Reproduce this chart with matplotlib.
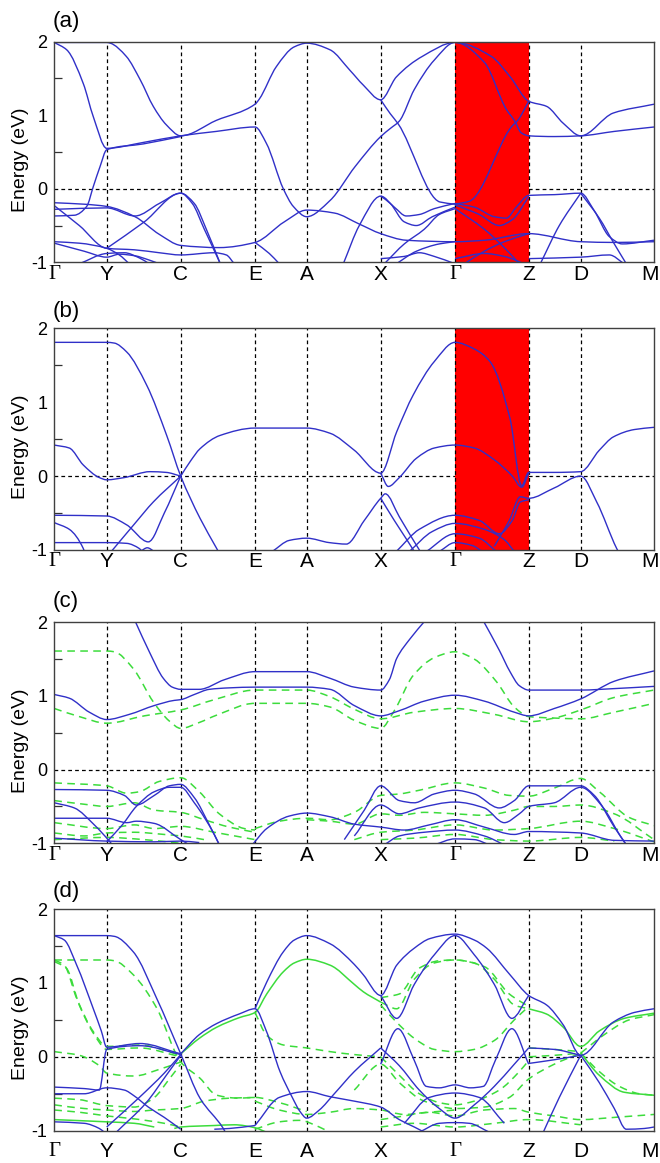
import numpy as np
import matplotlib
matplotlib.use("Agg")
import matplotlib.pyplot as plt
from matplotlib.path import Path
from matplotlib.patches import PathPatch

# ---------------- k-path ----------------
k_ticks = [0, 52.4, 126.4, 200.7, 252.4, 326.4, 400.7, 474.4, 526.4, 599.7]
k_labels = ['Γ', 'Y', 'C', 'E', 'A', 'X', 'Γ', 'Z', 'D', 'M']
y_ticks = [-1, 0, 1, 2]

# ---------------- panel (a): blue bands (k, E) ----------------
a_blue = [
    [(0, 1.99), (52.4, 1.99), (56, 1.98), (72, 1.80), (86, 1.48), (99, 1.12), (112, 0.87), (126.4, 0.72),
     (162, 0.93), (200.7, 1.15), (205, 1.22), (222, 1.66), (240, 1.93), (252.4, 1.98), (275.7, 1.89),
     (295.7, 1.61), (309, 1.41), (326.4, 1.21), (342, 1.52), (368, 1.80), (400.7, 1.99), (437, 1.80),
     (456, 1.52), (474.4, 1.19), (492.4, 1.12), (509, 0.89), (526.4, 0.72), (559, 1.03), (599.7, 1.15)],
    [(0, 1.99), (12.4, 1.89), (29, 1.43), (39, 0.98), (52.4, 0.55), (89, 0.63), (126.4, 0.72), (162, 0.78),
     (200.7, 0.84), (212, 0.62), (229, 0.0), (239, -0.24), (252.4, -0.38), (275.7, -0.16), (300.7, 0.30),
     (326.4, 0.71), (336, 0.82), (345, 0.92), (360, 1.35), (380, 1.75), (400.7, 1.99), (430, 1.72),
     (452, 1.08), (460, 0.93), (467, 0.76), (474.4, 0.72), (500, 0.71), (526.4, 0.72), (560, 0.78),
     (599.7, 0.84)],
    [(0, -0.37), (20, -0.36), (32.4, -0.24), (39, 0.03), (45.7, 0.30), (52.4, 0.53), (89, 0.61), (126.4, 0.71)],
    [(326.4, 1.21), (336, 1.02), (344, 0.88), (385.7, -0.18), (400.7, -0.21)],
    [(400.7, -0.21), (415, -0.17), (457, 0.84), (464, 0.94), (474.4, 1.19)],
    [(0, -0.19), (30, -0.21), (52.4, -0.24), (80.7, -0.38), (105, -0.62), (126.4, -0.77), (165, -0.80),
     (200.7, -0.73), (230, -0.45), (252.4, -0.29), (280, -0.33), (305, -0.48), (326.4, -0.61), (352, -0.70),
     (400.7, -0.72), (430, -0.70), (474.4, -0.61), (526.4, -0.72), (560, -0.73), (599.7, -0.72)],
    [(52.4, -0.81), (90, -0.45), (126.4, -0.06), (140, -0.2), (152, -0.55), (166, -1.02)],
    [(0, -0.23), (25, -0.5), (52.4, -0.81), (80, -0.83), (105, -0.87), (126.4, -0.9), (160, -0.87),
     (172, -0.9), (180, -1.02)],
    [(0, -0.28), (52.4, -0.26), (80.7, -0.37), (105, -0.2), (126.4, -0.06), (138, -0.2), (150, -0.55),
     (162, -0.9), (166, -1.02)],
    [(0, -0.72), (25, -0.74), (52.4, -0.81), (65, -0.9), (75, -1.02)],
    [(0, -0.74), (30, -0.85), (52.4, -0.93), (65, -0.89), (80, -0.91), (95, -0.97), (105, -1.02)],
    [(25, -1.02), (52.4, -0.88), (70, -0.87), (85, -0.94), (95, -1.02)],
    [(200.7, -0.73), (215, -0.88), (225, -1.02)],
    [(289, -1.02), (305, -0.5), (326.4, -0.1), (340, -0.25), (352, -0.37), (365, -0.35), (380, -0.27),
     (400.7, -0.2)],
    [(326.4, -0.1), (336, -0.2), (350, -0.45), (362, -0.5), (378, -0.38), (400.7, -0.25)],
    [(330, -1.02), (350, -0.75), (370, -0.55), (385, -0.35), (400.7, -0.27)],
    [(342, -1.02), (362, -0.85), (385, -0.75), (400.7, -0.72)],
    [(326.4, -0.95), (350, -0.92), (365, -0.87), (380, -0.92), (400.7, -1.02)],
    [(400.7, -0.2), (420, -0.25), (440, -0.38), (452, -0.4), (462, -0.25), (474.4, -0.09), (500, -0.08),
     (526.4, -0.06), (540, -0.3), (555, -0.65), (568, -0.75), (599.7, -0.70)],
    [(526.4, -0.06), (545, -0.4), (560, -0.75), (572, -1.02)],
    [(400.7, -0.22), (425, -0.35), (445, -0.5), (458, -0.42), (474.4, -0.11)],
    [(400.7, -0.27), (430, -0.55), (450, -0.8), (465, -1.02)],
    [(410, -1.02), (430, -0.85), (450, -0.72), (474.4, -0.61)],
    [(400.7, -0.95), (430, -0.88), (450, -0.92), (470, -1.02)],
    [(474.4, -0.95), (526.4, -0.93), (555, -0.9), (570, -1.02)],
    [(486, -1.02), (505, -0.5), (526.4, -0.06)],
]

# ---------------- panel (b): blue bands ----------------
b_blue = [
    [(0, 1.81), (52.4, 1.81), (60, 1.80), (72.4, 1.68), (92.4, 1.23), (112.4, 0.55), (126.4, 0.0),
     (145.7, -0.57), (162.4, -0.98), (164, -1.02)],
    [(126.4, 0.0), (136, 0.2), (145.7, 0.37), (165.7, 0.55), (200.7, 0.65), (252.4, 0.65), (275.7, 0.58),
     (300, 0.35), (326.4, 0.04), (342.4, 0.6), (359, 1.10), (380, 1.55), (400.7, 1.81), (420, 1.72),
     (435.7, 1.55), (455.7, 0.78), (467.4, -0.13), (474.4, 0.05), (500, 0.05), (526.4, 0.06), (545, 0.35),
     (559, 0.53), (580, 0.63), (599.7, 0.66)],
    [(326.4, 0.04), (334, -0.14), (345, -0.02), (362, 0.24), (380, 0.38), (400.7, 0.42), (420, 0.38),
     (440, 0.22), (458, 0.0), (467.4, -0.15), (474.4, 0.04)],
    [(440, -0.95), (455, -0.6), (466, -0.28), (474.4, -0.30), (500, -0.16), (526.4, 0.0), (542.4, -0.35),
     (562.4, -0.98), (564, -1.02)],
    [(218, -1.02), (235, -0.87), (252.4, -0.84), (275, -0.9), (292, -0.92), (310, -0.6), (326.4, -0.3),
     (331, -0.24), (345, -0.55), (356, -0.8), (366, -1.02)],
    [(326.4, -0.3), (340, -0.6), (352, -0.85), (360, -1.02)],
    [(342, -1.02), (365, -0.72), (400.7, -0.53), (425, -0.6), (445, -0.78), (458, -0.6), (466, -0.35),
     (474.4, -0.32)],
    [(355, -1.02), (378, -0.75), (400.7, -0.64), (430, -0.72), (450, -0.86), (460, -1.02)],
    [(372, -1.02), (400.7, -0.78), (425, -0.84), (442, -1.02)],
    [(385, -1.02), (400.7, -0.9), (418, -0.94), (428, -1.02)],
    [(0, 0.42), (15, 0.38), (29, 0.15), (45, -0.02), (52.4, -0.05), (70, -0.02), (95.7, 0.06), (112, 0.05),
     (126.4, 0.0)],
    [(0, -0.53), (52.4, -0.54), (72.4, -0.66), (94, -0.89), (110, -0.5), (126.4, 0.0)],
    [(57, -1.02), (80, -0.65), (99, -0.35), (126.4, 0.0)],
    [(0, -0.63), (15, -0.72), (29, -0.98), (30, -1.02)],
    [(0, -0.90), (52.4, -0.90), (72.4, -0.91), (85, -0.98), (88, -1.02)],
    [(86, -1.02), (93, -0.97), (100, -1.02)],
]

# ---------------- panel (c): blue (solid) and green (dashed) ----------------
c_blue = [
    [(80.7, 2.02), (95, 1.6), (109, 1.24), (118, 1.12), (126.4, 1.09), (145, 1.09), (170, 1.22),
     (200.7, 1.33), (252.4, 1.33), (275.7, 1.24), (300, 1.12), (326.4, 1.08), (335, 1.22), (342.4, 1.51),
     (356, 1.78), (370.7, 2.02)],
    [(429, 2.02), (445, 1.62), (455.7, 1.33), (465, 1.14), (474.4, 1.08), (526.4, 1.08), (560, 1.10),
     (599.7, 1.13)],
    [(0, 1.02), (15, 0.97), (35, 0.78), (52.4, 0.68), (75, 0.75), (100, 0.87), (120, 0.94), (126.4, 0.95),
     (140, 1.02), (155, 1.09), (175, 1.11), (200.7, 1.12), (252.4, 1.12), (275.7, 1.09), (300, 0.87),
     (326.4, 0.73), (345, 0.8), (370, 0.93), (400.7, 1.01), (430, 0.93), (460, 0.78), (474.4, 0.73),
     (500, 0.83), (526.4, 0.96), (560, 1.2), (599.7, 1.34)],
    [(0, -0.27), (52.4, -0.28), (70, -0.35), (82, -0.48), (100, -0.35), (115, -0.22), (126.4, -0.2),
     (140, -0.38), (155, -0.75), (165, -1.02)],
    [(0, -0.45), (20, -0.52), (40, -0.75), (55, -0.97), (58, -1.02)],
    [(52.4, -0.98), (68, -0.75), (82, -0.5), (100, -0.3), (115, -0.24), (126.4, -0.24), (140, -0.45),
     (160, -0.88), (165, -1.02)],
    [(0, -0.66), (52.4, -0.66), (72.4, -0.72), (82, -0.70), (100, -0.73), (126.4, -0.95), (135, -1.02)],
    [(0, -0.93), (52.4, -0.97), (100, -0.98), (126.4, -0.97), (145, -0.99)],
    [(290, -0.95), (310, -0.55), (326.4, -0.22), (345, -0.42), (360, -0.45), (380, -0.33), (400.7, -0.28),
     (420, -0.33), (445, -0.52), (460, -0.42), (474.4, -0.22), (526.4, -0.22), (540, -0.35), (560, -0.78),
     (572, -1.02)],
    [(300, -0.9), (326.4, -0.48), (345, -0.6), (365, -0.52), (400.7, -0.44), (430, -0.52), (450, -0.72),
     (465, -0.6), (474.4, -0.5), (500, -0.45), (526.4, -0.24), (548, -0.5), (566, -0.9), (572, -1.02)],
    [(198, -1.02), (212.4, -0.8), (235, -0.63), (252.4, -0.59), (275.7, -0.64), (300, -0.74), (326.4, -0.78),
     (350, -0.82), (375, -0.75), (400.7, -0.68), (430, -0.78), (460, -0.88), (474.4, -0.84), (526.4, -0.86),
     (560, -0.96), (599.7, -0.97)],
    [(330, -1.02), (345, -0.9), (370, -0.85), (400.7, -0.82), (430, -0.9), (450, -1.02)],
    [(380, -1.02), (400.7, -0.94), (420, -0.95), (435, -1.02)],
]
c_green = [
    [(0, 1.61), (52.4, 1.61), (60, 1.6), (79, 1.37), (99, 0.92), (115, 0.66), (126.4, 0.56), (145, 0.64),
     (162.4, 0.74), (200.7, 0.90), (252.4, 0.90), (275.7, 0.85), (300, 0.67), (326.4, 0.56), (340, 0.8),
     (359, 1.28), (380, 1.52), (400.7, 1.60), (420, 1.5), (442.4, 1.19), (460, 0.85), (474.4, 0.72),
     (500, 0.70), (526.4, 0.69), (560, 0.78), (599.7, 0.90)],
    [(0, 0.83), (25, 0.72), (52.4, 0.63), (90, 0.73), (126.4, 0.81), (160, 0.95), (200.7, 1.08),
     (252.4, 1.08), (275.7, 0.99), (300, 0.82), (326.4, 0.69), (360, 0.78), (400.7, 0.83), (440, 0.75),
     (474.4, 0.65), (500, 0.7), (526.4, 0.81), (560, 0.98), (599.7, 1.08)],
    [(0, -0.18), (52.4, -0.22), (72.4, -0.32), (85, -0.3), (105, -0.16), (126.4, -0.11), (145, -0.3),
     (165, -0.6), (190, -0.8), (200.7, -0.82)],
    [(0, -0.42), (30, -0.47), (52.4, -0.5), (80, -0.45), (100, -0.55), (126.4, -0.58), (150, -0.68),
     (175, -0.78), (200.7, -0.85)],
    [(0, -0.72), (52.4, -0.8), (80, -0.75), (100, -0.8), (126.4, -0.77), (160, -0.85), (200.7, -0.95)],
    [(0, -0.86), (30, -0.9), (52.4, -0.86), (80, -0.85), (110, -0.88), (126.4, -0.9), (150, -0.95)],
    [(0, -0.95), (52.4, -0.92), (90, -0.95), (126.4, -1.0)],
    [(200.7, -0.8), (225, -0.7), (252.4, -0.66), (275.7, -0.68), (300, -0.58), (326.4, -0.35), (345, -0.33),
     (365, -0.28), (400.7, -0.18), (430, -0.25), (455, -0.35), (474.4, -0.36), (500, -0.25), (526.4, -0.12),
     (545, -0.3), (575, -0.65), (599.7, -0.76)],
    [(252.4, -0.68), (275.7, -0.7), (300, -0.74), (326.4, -0.6), (345, -0.62), (370, -0.58), (400.7, -0.6),
     (430, -0.62), (460, -0.55), (474.4, -0.5), (500, -0.5), (526.4, -0.48), (560, -0.6), (599.7, -0.95)],
    [(300, -0.95), (326.4, -0.85), (360, -0.82), (400.7, -0.75), (440, -0.82), (474.4, -0.8), (526.4, -0.7),
     (560, -0.8), (599.7, -0.98)],
    [(326.4, -0.95), (360, -0.93), (400.7, -0.88), (440, -0.95), (474.4, -0.97), (526.4, -0.92),
     (560, -0.97)],
]

# ---------------- panel (d): blue (solid), green solid and green dashed ----------------
d_blue = [
    [(0, 1.64), (52.4, 1.64), (60, 1.63), (79, 1.42), (102.4, 0.79), (126.4, 0.04), (145.7, -0.56),
     (169, -0.97), (171, -1.02)],
    [(0, 1.64), (10, 1.58), (22.4, 1.24), (39, 0.65), (47, 0.35), (52.4, 0.13), (85.7, 0.18), (126.4, 0.04)],
    [(0, -0.41), (30, -0.43), (45, -0.45), (52.4, 0.10), (85.7, 0.15), (126.4, 0.03)],
    [(126.4, 0.04), (145, 0.3), (162.4, 0.45), (185, 0.58), (200.7, 0.65), (212, 0.35), (225.7, -0.2),
     (238, -0.55), (245.7, -0.74), (252.4, -0.83), (265, -0.72), (280, -0.5), (300, -0.2), (326.4, 0.12)],
    [(200.7, 0.65), (212.4, 1.01), (229, 1.42), (240, 1.58), (252.4, 1.64), (275.7, 1.53), (300, 1.25),
     (309, 1.11), (326.4, 0.83), (342.4, 1.24), (360, 1.47), (375.7, 1.6), (400.7, 1.66), (420, 1.58),
     (432.4, 1.47), (455.7, 1.11), (474.4, 0.83), (492.4, 0.70), (509, 0.43), (526.4, 0.02), (559, 0.47),
     (580, 0.6), (599.7, 0.65)],
    [(326.4, 0.83), (342.4, 0.52), (360, 0.98), (380, 1.38), (400.7, 1.64), (420, 1.38), (440, 0.98),
     (457.6, 0.52), (474.4, 0.83)],
    [(326.4, -0.1), (343.6, 0.38), (360, -0.05), (372, -0.4), (385, -0.42), (400.7, -0.38), (416, -0.42),
     (429, -0.4), (441, -0.05), (457.6, 0.38), (474.4, -0.1)],
    [(474.4, 0.12), (500, 0.1), (526.4, 0.02)],
    [(474.4, -0.09), (500, -0.04), (526.4, 0.02)],
    [(326.4, 0.12), (345, -0.12), (365, -0.45), (385, -0.7), (400.7, -0.83), (420, -0.65), (440, -0.4),
     (460, -0.1), (474.4, 0.12)],
    [(350, -0.9), (375, -0.55), (400.7, -0.49), (425, -0.55), (450, -0.9)],
    [(200.7, -0.93), (225, -0.55), (252.4, -0.47), (275.7, -0.54), (300, -0.6), (326.4, -0.68), (345, -0.85),
     (360, -0.95), (370, -1.02)],
    [(365, -1.02), (385, -0.9), (400.7, -0.89), (415, -0.9), (435, -1.02)],
    [(526.4, 0.02), (545, -0.35), (560, -0.7), (572, -0.98), (590, -0.97), (599.7, -0.95)],
    [(489, -1.02), (505, -0.55), (526.4, 0.02)],
    [(0, -0.5), (30, -0.5), (52.4, -0.42), (70, -0.45), (80, -0.53), (94, -0.68), (110, -0.82), (126.4, -0.98)],
    [(52.4, -0.95), (85, -0.55), (110, -0.22), (126.4, 0.03)],
    [(62, -1.02), (92, -0.62), (112, -0.25), (126.4, 0.02)],
    [(0, -0.88), (30, -0.9), (45, -0.97), (50, -1.02)],
    [(160, -0.98), (175, -0.97), (200.7, -0.93)],
]
d_green_solid = [
    [(126.4, 0.04), (145, 0.25), (162.4, 0.40), (185, 0.53), (200.7, 0.60), (212.4, 0.85), (229, 1.15),
     (240, 1.27), (252.4, 1.32), (275.7, 1.24), (300, 0.98), (309, 0.88), (326.4, 0.74)],
    [(474.4, 0.65), (492, 0.58), (509, 0.4), (526.4, 0.14), (545, 0.35), (570, 0.52), (599.7, 0.59)],
    [(526.4, 0.05), (545, -0.25), (570, -0.48), (599.7, -0.52)],
    [(120, -0.97), (126.4, -0.95), (160, -0.93), (180, -0.92), (200.7, -0.96), (212, -1.02)],
    [(0, -0.85), (52.4, -0.88), (80, -0.9), (100, -0.95)],
]
d_green_dash = [
    [(0, 1.31), (52.4, 1.31), (60, 1.30), (79, 1.11), (102.4, 0.66), (126.4, -0.07), (145.7, -0.29),
     (162.4, -0.52), (185, -0.56), (200.7, -0.55), (225, -0.62), (252.4, -0.74)],
    [(0, 1.31), (10, 1.24), (22.4, 0.79), (39, 0.34), (52.4, 0.14), (85.7, 0.16), (126.4, 0.02)],
    [(0, 1.29), (12, 1.2), (25, 0.7), (40, 0.3), (52.4, 0.1), (85, 0.12), (126.4, 0.0)],
    [(200.7, 0.60), (212.4, 0.29), (229, 0.16), (252.4, 0.12), (275.7, 0.07), (300, 0.03), (326.4, 0.0)],
    [(326.4, 0.74), (342.4, 0.65), (360, 1.05), (380, 1.27), (400.7, 1.31), (420, 1.27), (440, 1.05),
     (460, 0.7), (474.4, 0.65)],
    [(326.4, 0.8), (345, 0.85), (365, 1.2), (385, 1.3), (400.7, 1.31), (430, 1.22), (455, 0.85),
     (474.4, 0.68)],
    [(326.4, 0.7), (340, 0.5), (360, 0.25), (380, 0.1), (400.7, 0.07), (420, 0.1), (440, 0.22), (460, 0.5),
     (474.4, 0.68)],
    [(326.4, 0.0), (345, -0.25), (365, -0.5), (385, -0.62), (400.7, -0.65), (420, -0.6), (445, -0.45),
     (465, -0.2), (474.4, -0.05)],
    [(300, -0.45), (326.4, -0.1), (345, -0.35), (370, -0.6), (400.7, -0.7), (430, -0.68), (455, -0.55),
     (474.4, -0.3), (500, -0.1), (526.4, 0.05)],
    [(474.4, 0.12), (500, 0.1), (526.4, 0.07)],
    [(474.4, 0.0), (500, 0.02), (526.4, 0.05)],
    [(526.4, 0.05), (550, 0.3), (575, 0.5), (599.7, 0.57)],
    [(526.4, 0.05), (545, -0.2), (565, -0.4), (585, -0.5), (599.7, -0.52)],
    [(0, 0.07), (25, 0.02), (45, -0.12), (52.4, -0.22), (80, -0.26), (105, -0.17), (126.4, -0.07)],
    [(0, -0.56), (25, -0.58), (52.4, -0.66), (80, -0.68), (100, -0.55), (115, -0.3), (126.4, -0.1)],
    [(0, -0.65), (30, -0.7), (52.4, -0.72), (80, -0.74), (100, -0.72), (126.4, -0.7), (150, -0.6),
     (175, -0.56), (200.7, -0.55)],
    [(0, -0.72), (25, -0.75), (52.4, -0.8), (80, -0.84), (110, -0.9), (126.4, -0.95)],
    [(200.7, -0.6), (225, -0.72), (252.4, -0.78), (275.7, -0.75), (300, -0.7), (326.4, -0.72), (350, -0.78),
     (375, -0.75), (400.7, -0.72)],
    [(200.7, -0.98), (225, -0.88), (245, -0.86), (265, -0.95), (275, -1.02)],
    [(326.4, -0.85), (350, -0.8), (375, -0.75), (400.7, -0.8), (430, -0.72), (460, -0.7), (474.4, -0.75),
     (500, -0.8), (526.4, -0.85), (560, -0.82), (599.7, -0.78)],
    [(326.4, -0.95), (360, -0.9), (400.7, -0.95), (440, -0.9), (474.4, -0.85), (526.4, -0.92)],
]

BLUE = '#3030c8'
GREEN = '#3cdc3c'
RED = '#ff0000'


def band_path(pts):
    x = np.array([p[0] for p in pts], float)
    y = np.array([p[1] for p in pts], float)
    n = len(x)
    if n < 3:
        return Path(np.column_stack([x, y]))
    h = np.diff(x)
    d = np.diff(y) / h
    m = np.empty(n)
    m[0], m[-1] = d[0], d[-1]
    for i in range(1, n - 1):
        if d[i - 1] * d[i] <= 0:
            m[i] = 0.0
        else:
            w1 = 2 * h[i] + h[i - 1]
            w2 = h[i] + 2 * h[i - 1]
            m[i] = (w1 + w2) / (w1 / d[i - 1] + w2 / d[i])
    verts = [(x[0], y[0])]
    codes = [Path.MOVETO]
    for i in range(n - 1):
        verts += [(x[i] + h[i] / 3, y[i] + m[i] * h[i] / 3),
                  (x[i + 1] - h[i] / 3, y[i + 1] - m[i + 1] * h[i] / 3),
                  (x[i + 1], y[i + 1])]
        codes += [Path.CURVE4] * 3
    return Path(verts, codes)


def draw_bands(ax, bands, color, ls='-', lw=1.0, z=5):
    for b in bands:
        ax.add_patch(PathPatch(band_path(b), fill=False, edgecolor=color, lw=lw,
                               linestyle=ls, zorder=z, capstyle='butt'))


fig = plt.figure(figsize=(6.6, 11.63), dpi=100)
W, H = 660.0, 1163.0
ax_left, ax_right = 54.3, 654.0
panels = [
    ('(a)', 41.7, 262.3, a_blue, [], [], True, 1.7, 21.7),
    ('(b)', 328.3, 550.0, b_blue, [], [], True, 1.2, 312.0),
    ('(c)', 622.3, 843.3, c_blue, [], c_green, False, 1.7, 601.0),
    ('(d)', 909.0, 1130.7, d_blue, d_green_solid, d_green_dash, False, 8.0, 891.0),
]

for tag, top, bot, blue, gsolid, gdash, red, xpad, tag_y in panels:
    ax = fig.add_axes([ax_left / W, 1 - bot / H, (ax_right - ax_left) / W, (bot - top) / H])
    ax.set_xlim(k_ticks[0], k_ticks[-1])
    ax.set_ylim(-1, 2)
    ax.axhline(0, color='black', lw=0.9, ls=(0, (3, 2.5)), zorder=1)
    if red:
        ax.axvspan(k_ticks[6], k_ticks[7], color=RED, lw=0, zorder=2)
    for kx in k_ticks[1:-1]:
        ax.axvline(kx, color='black', lw=0.9, ls=(0, (3, 2.5)), zorder=3)
    draw_bands(ax, gsolid, GREEN, '-', 1.1, 4)
    draw_bands(ax, gdash, GREEN, (0, (5, 3.5)), 1.1, 4)
    draw_bands(ax, blue, BLUE, '-', 1.0, 5)

    # x tick labels: the last one ('M') is placed by hand so it stays inside the figure
    ax.set_xticks(k_ticks)
    ax.set_xticklabels(k_labels[:-1] + [''], fontsize=15, family='Liberation Sans')
    for lbl in ax.get_xticklabels():
        if lbl.get_text() == 'Γ':
            lbl.set_fontfamily('Liberation Serif')
    ax.tick_params(axis='x', length=0, pad=xpad)
    ax.annotate(k_labels[-1], xy=(k_ticks[-1], 0), xycoords=('data', 'axes fraction'),
                xytext=(-3.0, -xpad), textcoords='offset points', ha='center', va='top',
                fontsize=15, family='Liberation Sans', annotation_clip=False)

    ax.set_yticks(y_ticks)
    ax.set_yticklabels([str(v) for v in y_ticks], fontsize=13, family='Liberation Sans')
    ax.set_yticks([-0.5, 0.5, 1.5], minor=True)
    ax.tick_params(axis='y', which='major', direction='in', length=0, pad=5)
    ax.tick_params(axis='y', which='minor', direction='in', length=6, width=0.9, color='#333333')
    ax.set_ylabel('Energy (eV)', fontsize=14, family='Liberation Sans')
    ax.yaxis.set_label_coords((29 - ax_left) / (ax_right - ax_left), 0.465)
    for sp in ax.spines.values():
        sp.set_linewidth(1.0)
        sp.set_color('#404040')
        sp.set_zorder(6)
    fig.text(53 / W, 1 - tag_y / H, tag, fontsize=16, family='Liberation Sans', va='center', ha='left')

fig.savefig('out.png', dpi=100)
